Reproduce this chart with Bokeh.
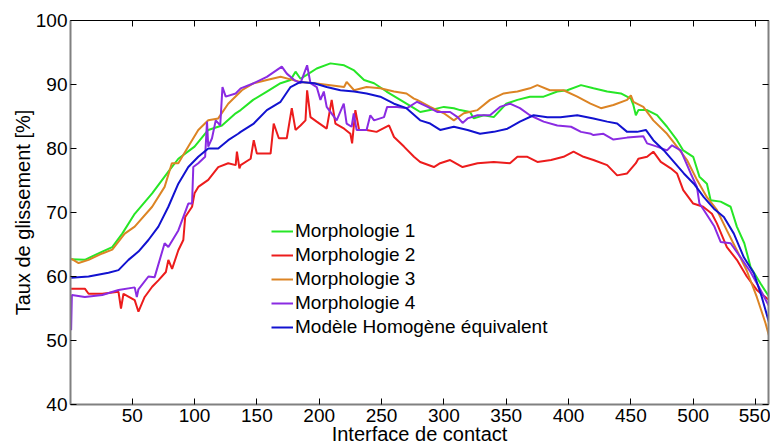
from bokeh.plotting import figure
from bokeh.models import Range1d, LinearAxis, Legend, LegendItem, FixedTicker
from bokeh.embed import file_html
from bokeh.resources import INLINE

# ---- data ----
x_m1 = [1, 12, 26, 34, 42, 52, 66, 79, 87, 100, 111, 122, 133,
        137, 147, 158, 169, 177, 181, 185, 190, 198, 209, 220, 228, 236, 244, 254, 265, 276,
        281, 289, 300, 308, 313, 321, 324, 332, 340, 350, 359, 369, 380, 391, 399, 410,
        420, 431, 442, 450, 452, 454, 456, 463, 471, 479, 487, 492, 500, 505, 511, 514, 522,
        530, 535, 541, 546, 554, 561]
y_m1 = [62.7, 62.6, 63.9, 64.6, 66.7, 69.8, 73.0, 76.4, 78.4, 80.3, 82.9, 83.6, 85.5,
        86.0, 87.6, 88.9, 90.2, 90.7, 92.0, 90.9, 91.5, 92.5, 93.3, 93.0, 92.2, 90.7, 90.2, 88.9, 87.6, 86.3,
        85.7, 86.0, 86.5, 86.3, 86.0, 85.7, 84.7, 85.2, 84.9, 87.0, 87.6, 88.1, 88.1, 88.9, 89.1, 89.9,
        89.4, 88.9, 88.6, 87.8, 86.8, 85.2, 86.0, 86.0, 85.2, 83.4, 81.3, 79.7, 78.7, 75.6, 74.5, 71.9, 71.7,
        70.9, 67.8, 65.2, 61.5, 58.9, 56.8]

x_m2 = [1, 12, 15, 26, 39, 41, 43, 52, 55, 60, 66, 71, 77, 79, 82, 87, 91, 92.5, 98, 100, 103, 111,
        119, 127, 133, 134, 136,
        137, 145, 147.5, 150, 161, 163.5, 167.6, 174, 178, 181, 185, 189, 190.3, 193, 198, 206, 210,
        213, 220, 225, 226.4, 229, 232, 238, 246, 256, 260, 268, 276,
        281, 292, 297, 305, 315, 327, 340, 353, 359, 367, 375, 386, 396, 404, 412,
        420, 431, 439, 447, 454, 456, 463, 468, 474, 482, 487, 492, 500, 508, 515, 519, 527, 535,
        543, 551, 561]
y_m2 = [58.1, 58.1, 57.3, 57.3, 57.6, 55.0, 57.3, 56.3, 54.5, 56.8, 58.4, 59.4, 60.7, 62.6, 61.2, 64.1, 65.7, 69.3, 70.9, 73.0, 74.0, 75.1,
        77.1, 77.7, 77.4, 79.5, 76.9,
        77.4, 78.4, 81.3, 79.2, 79.2, 83.9, 81.6, 81.6, 86.3, 82.9, 83.6, 84.4, 89.1, 84.9, 84.2, 83.1, 87.6,
        83.9, 83.1, 82.3, 80.8, 86.0, 82.9, 82.9, 82.6, 83.6, 81.8, 80.3, 78.7,
        77.9, 77.1, 77.7, 78.2, 77.1, 77.7, 77.9, 77.7, 78.7, 78.7, 77.9, 78.2, 78.7, 79.5, 78.7,
        78.2, 77.4, 75.8, 76.1, 77.7, 78.4, 78.7, 79.5, 77.9, 76.9, 76.1, 73.5, 71.4, 70.9, 69.8, 68.3, 64.6, 62.6,
        60.0, 57.9, 56.3]

x_m3 = [1, 7, 15, 26, 34, 44, 52, 66, 76, 81.8, 87, 95, 103, 111, 119, 127, 138,
        147.5, 158, 169, 177, 185, 196, 209, 220, 222, 228, 238, 249, 260, 270, 276,
        278.5, 289, 300, 308, 316, 327, 337, 348, 359, 369, 375, 385, 396, 407,
        417.6, 426, 436, 447, 450, 452, 460, 468, 479, 487, 495, 503, 511, 519, 527, 535, 543,
        551, 558, 561]
y_m3 = [62.8, 62.1, 62.6, 63.6, 64.2, 66.7, 67.8, 70.9, 74.0, 77.7, 77.7, 80.3, 82.9, 84.4, 84.7, 87.0, 89.1,
        90.2, 90.7, 91.2, 90.8, 90.4, 90.2, 89.9, 89.6, 90.4, 89.1, 89.6, 89.4, 88.9, 88.6, 87.8,
        87.6, 86.5, 85.5, 84.4, 85.5, 86.0, 87.6, 88.6, 88.9, 89.4, 89.9, 89.1, 89.1, 88.1,
        87.0, 86.3, 86.8, 87.6, 88.3, 87.3, 86.5, 84.4, 82.3, 80.3, 78.2, 75.1, 72.4, 70.4, 67.2, 64.1, 60.9,
        56.8, 52.7, 50.6]

x_m4 = [1, 1.6, 12, 26, 39, 52, 53.7, 55, 63, 68, 76, 79, 87, 95, 98, 99, 103, 108.5, 110, 111, 114,
        117, 120.6, 122.4, 125, 133,
        137, 147.5, 158, 170, 174, 180, 185, 190.3, 193, 198, 201, 203.7, 206, 214, 219.7, 222, 226,
        227.7, 230, 238, 241, 244, 252, 254.5, 262.5, 270.5,
        278.5, 287, 295, 305, 311, 315, 319, 327, 337, 345, 353, 361, 369, 380, 391, 402, 410, 418,
        420, 428, 436, 447, 460, 463, 471, 479, 483, 490, 498, 503, 505, 508.5, 517, 522, 530, 538,
        546, 554, 561]
y_m4 = [51.6, 57.1, 56.8, 57.1, 57.9, 58.3, 56.8, 58.0, 60.0, 59.9, 65.2, 64.6, 67.2, 71.4, 71.4, 77.1, 77.7, 78.7, 84.2, 80.3, 81.6,
        84.4, 83.6, 89.6, 88.1, 88.6,
        89.4, 90.2, 91.2, 92.8, 91.7, 90.7, 90.2, 93.0, 90.2, 89.6, 87.6, 88.9, 86.5, 84.4, 87.0, 83.9, 83.4,
        85.5, 82.9, 82.9, 85.2, 84.4, 84.9, 86.5, 86.5, 86.3,
        87.3, 86.5, 85.7, 85.7, 84.9, 84.0, 84.7, 85.2, 85.2, 86.5, 87.0, 86.3, 85.2, 84.2, 83.6, 83.4, 82.6, 82.3,
        82.1, 82.3, 81.4, 81.7, 81.9, 80.8, 80.3, 79.7, 80.5, 79.7, 76.1, 74.0, 71.4, 70.4, 67.8, 65.4, 65.2, 63.0,
        60.7, 57.9, 55.3]

x_hom = [1, 15, 31, 39, 47, 55, 63, 71, 79, 87, 95, 103, 111, 119, 127, 135,
         137, 147.5, 158, 169, 177, 185, 196, 206, 217, 228, 238, 249, 260, 270, 281,
         289, 297, 308, 319, 329, 340, 351, 361, 372, 383, 393.5, 407,
         420, 431, 439, 447, 455, 462, 468, 476.5, 484.5, 492.5, 500.5, 508.5, 516.6, 524.6, 532.6,
         540.6, 548.7, 555, 561]
y_hom = [59.8, 60.0, 60.6, 61.0, 62.6, 63.9, 65.7, 67.8, 70.9, 74.5, 77.1, 78.7, 80.0, 80.0, 81.3, 82.3,
         82.6, 83.9, 86.0, 87.3, 89.6, 90.4, 90.2, 89.6, 89.1, 88.9, 88.6, 88.1, 87.0, 86.3, 84.4,
         83.9, 82.9, 83.4, 82.9, 82.3, 82.6, 83.1, 84.2, 85.2, 84.9, 84.9, 85.2,
         84.7, 84.2, 83.9, 82.6, 82.6, 82.9, 81.3, 79.7, 77.9, 76.1, 74.5, 72.4, 70.6, 69.3, 66.7,
         63.0, 60.5, 56.8, 52.7]

labels = ["Morphologie 1", "Morphologie 2", "Morphologie 3", "Morphologie 4",
          "Modèle Homogène équivalent"]
colors = ["#26E626", "#EC1C1C", "#DC8424", "#8A2BE2", "#1212D0"]
x_ticks = [50, 100, 150, 200, 250, 300, 350, 400, 450, 500, 550]
y_ticks = [40, 50, 60, 70, 80, 90, 100]

FONT = "Liberation Sans"

p = figure(width=770, height=448, output_backend="svg", toolbar_location=None,
           x_range=Range1d(0.5, 560.4), y_range=Range1d(40, 100),
           min_border_left=70, min_border_right=2, min_border_top=20, min_border_bottom=44)
p.xgrid.visible = False
p.ygrid.visible = False
p.outline_line_color = "black"
p.outline_line_width = 1

series = [(x_m1, y_m1), (x_m2, y_m2), (x_m3, y_m3), (x_m4, y_m4), (x_hom, y_hom)]
renderers = []
for (xs, ys), c in zip(series, colors):
    r = p.line(xs, ys, line_color=c, line_width=2)
    renderers.append(r)

for ax, tks in ((p.xaxis[0], x_ticks), (p.yaxis[0], y_ticks)):
    ax.ticker = FixedTicker(ticks=tks)
    ax.major_tick_in = 6
    ax.major_tick_out = 0
    ax.minor_tick_line_color = None
    ax.major_tick_line_color = "black"
    ax.axis_line_color = "#808080"
    ax.axis_line_width = 2
    ax.major_label_text_font = FONT
    ax.major_label_text_font_size = "19px"
    ax.major_label_text_color = "black"
    ax.axis_label_text_font = FONT
    ax.axis_label_text_font_size = "20px"
    ax.axis_label_text_font_style = "normal"
    ax.axis_label_text_color = "black"

p.xaxis[0].axis_label = "Interface de contact"
p.xaxis[0].major_label_standoff = 4
p.xaxis[0].axis_label_standoff = -2
p.yaxis[0].axis_label = "Taux de glissement [%]"
p.yaxis[0].major_label_standoff = 3
p.yaxis[0].axis_label_standoff = -1

top = LinearAxis(ticker=FixedTicker(ticks=x_ticks), major_tick_in=6, major_tick_out=0,
                 minor_tick_line_color=None, major_label_text_font_size="0px",
                 major_label_text_color=None, major_label_standoff=0,
                 axis_line_color="black")
right = LinearAxis(ticker=FixedTicker(ticks=y_ticks), major_tick_in=6, major_tick_out=0,
                   minor_tick_line_color=None, major_label_text_font_size="0px",
                   major_label_text_color=None, major_label_standoff=0,
                   axis_line_color="#808080", axis_line_width=2)
p.add_layout(top, "above")
p.add_layout(right, "right")

legend = Legend(items=[LegendItem(label=l, renderers=[r]) for l, r in zip(labels, renderers)],
                location=(201, 65), padding=0, margin=0, spacing=0,
                glyph_width=22, glyph_height=24, label_height=24, label_standoff=2,
                label_text_font=FONT, label_text_font_size="19px", label_text_color="black",
                border_line_color=None, background_fill_alpha=0)
p.add_layout(legend, "center")

open("out.html", "w").write(file_html(p, INLINE))
